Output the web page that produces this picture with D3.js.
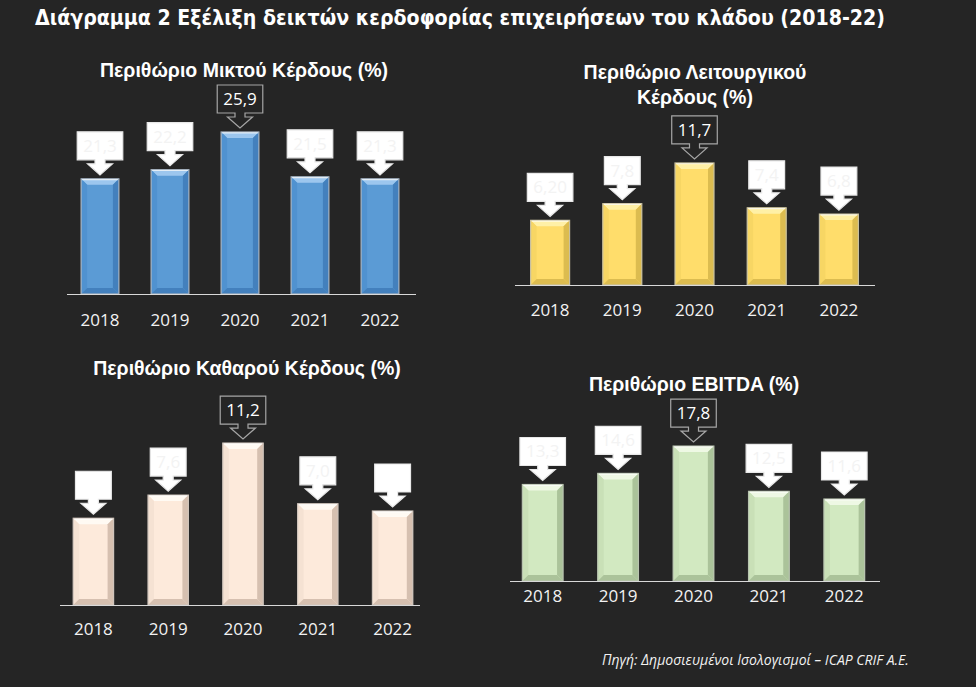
<!DOCTYPE html>
<html>
<head>
<meta charset="utf-8">
<script src="https://cdn.jsdelivr.net/npm/d3@7"></script>
<style>
  html, body { margin: 0; padding: 0; background: #252525; }
  svg { display: block; }
</style>
</head>
<body>
<svg id="chart" width="976" height="687"></svg>
<script>
// ---------------- DATA ----------------
const years = ["2018", "2019", "2020", "2021", "2022"];
const grossMargin = [21.3, 22.2, 25.9, 21.5, 21.3];
const grossLabels = ["21,3", "22,2", "25,9", "21,5", "21,3"];
const operatingMargin = [6.2, 7.8, 11.7, 7.4, 6.8];
const operatingLabels = ["6,20", "7,8", "11,7", "7,4", "6,8"];
const netMargin = [6.0, 7.6, 11.2, 7.0, 6.5];
const netLabels = ["", "7,6", "11,2", "7,0", ""];
const ebitdaMargin = [13.3, 14.6, 17.8, 12.5, 11.6];
const ebitdaLabels = ["13,3", "14,6", "17,8", "12,5", "11,6"];
const highlightYear = "2020";

const mainTitle = "Διάγραμμα 2 Εξέλιξη δεικτών κερδοφορίας επιχειρήσεων του κλάδου (2018-22)";
const sourceText = "Πηγή: Δημοσιευμένοι Ισολογισμοί – ICAP CRIF A.E.";

// ---------------- LAYOUT ----------------
const palettes = {
  blue:   { main: "#5b9bd5", top: "#9cc6ee", left: "#5092d0", right: "#4380bd", bottom: "#4380bd", stroke: "#a9b4c0" },
  yellow: { main: "#ffdd6b", top: "#fff0a6", left: "#f7d664", right: "#dcbc50", bottom: "#dcbc50", stroke: "#c8c0a0" },
  peach:  { main: "#fdeadb", top: "#fffaf3", left: "#f5e2d3", right: "#d6c0b0", bottom: "#d6c0b0", stroke: "#cfc4bb" },
  green:  { main: "#d2e9c1", top: "#eef8e4", left: "#c9e0b7", right: "#abc39a", bottom: "#abc39a", stroke: "#b9c4b0" }
};

const panels = [
  { title: ["Περιθώριο Μικτού Κέρδους (%)"], titleX: 244, titleY: 77,
    values: grossMargin, labels: grossLabels, pal: "blue",
    xRange: [65, 415], baseline: 294, domain: [10, 30], pxPerUnit: 10.19, tickY: 326, axis: [67, 416] },
  { title: ["Περιθώριο Λειτουργικού", "Κέρδους (%)"], titleX: 695, titleY: 79,
    values: operatingMargin, labels: operatingLabels, pal: "yellow",
    xRange: [514, 875], baseline: 285, domain: [0, 14], pxPerUnit: 10.43, tickY: 316, axis: [515, 875] },
  { title: ["Περιθώριο Καθαρού Κέρδους (%)"], titleX: 247, titleY: 375,
    values: netMargin, labels: netLabels, pal: "peach",
    xRange: [56, 430], baseline: 605, domain: [0, 12], pxPerUnit: 14.46, tickY: 635, axis: [60, 420] },
  { title: ["Περιθώριο EBITDA (%)"], titleX: 694, titleY: 391,
    values: ebitdaMargin, labels: ebitdaLabels, pal: "green",
    xRange: [505, 882], baseline: 581, domain: [2, 20], pxPerUnit: 8.54, tickY: 602, axis: [510, 880] }
];

const svg = d3.select("#chart");
svg.append("rect").attr("width", 976).attr("height", 687).attr("fill", "#252525");

// main title
svg.append("text")
  .attr("x", 35).attr("y", 25)
  .attr("font-family", "'Liberation Sans Narrow', 'DejaVu Sans Condensed', 'Liberation Sans', sans-serif")
  .attr("font-weight", "bold")
  .attr("font-size", 22)
  .attr("fill", "#ffffff")
  .attr("textLength", 850)
  .attr("lengthAdjust", "spacingAndGlyphs")
  .text(mainTitle);

// source
svg.append("text")
  .attr("x", 602).attr("y", 665)
  .attr("font-family", "'Open Sans', sans-serif")
  .attr("font-style", "italic")
  .attr("font-size", 14)
  .attr("fill", "#f2f2f2")
  .text(sourceText);

const fmt = v => v.toFixed(1).replace(".", ",");

panels.forEach(p => {
  const pal = palettes[p.pal];
  const g = svg.append("g");

  // title
  p.title.forEach((line, i) => {
    g.append("text")
      .attr("x", p.titleX).attr("y", p.titleY + i * 25)
      .attr("text-anchor", "middle")
      .attr("font-family", "'Liberation Sans', Arial, sans-serif")
      .attr("font-weight", "bold")
      .attr("font-size", 19.5)
      .attr("fill", "#ffffff")
      .text(line);
  });

  const x = d3.scaleBand().domain(years).range(p.xRange).paddingInner(0.46).paddingOuter(0.23);
  const topPx = p.baseline - (p.domain[1] - p.domain[0]) * p.pxPerUnit;
  const y = d3.scaleLinear().domain(p.domain).range([p.baseline, topPx]);

  const data = years.map((yr, i) => ({ year: yr, value: p.values[i], label: p.labels[i] }));
  const bw = x.bandwidth();
  const b = 6;

  // bars
  const bars = g.selectAll("g.bar").data(data).join("g").attr("class", "bar");
  bars.each(function(d) {
    const bg = d3.select(this);
    const x0 = x(d.year), x1 = x0 + bw;
    const y0 = y(d.value), y1 = y(p.domain[0]);
    bg.append("rect").attr("x", x0).attr("y", y0).attr("width", bw).attr("height", y1 - y0).attr("fill", pal.main);
    // bevel faces
    bg.append("polygon").attr("points", [[x0, y0], [x1, y0], [x1 - b, y0 + b], [x0 + b, y0 + b]].join(" ")).attr("fill", pal.top);
    bg.append("polygon").attr("points", [[x0, y0], [x0 + b, y0 + b], [x0 + b, y1 - b], [x0, y1]].join(" ")).attr("fill", pal.left);
    bg.append("polygon").attr("points", [[x1, y0], [x1, y1], [x1 - b, y1 - b], [x1 - b, y0 + b]].join(" ")).attr("fill", pal.right);
    bg.append("polygon").attr("points", [[x0, y1], [x0 + b, y1 - b], [x1 - b, y1 - b], [x1, y1]].join(" ")).attr("fill", pal.bottom);
    bg.append("rect").attr("x", x0).attr("y", y0).attr("width", bw).attr("height", y1 - y0)
      .attr("fill", "none").attr("stroke", pal.stroke).attr("stroke-width", 1.2);
    bg.append("line").attr("x1", x0 + 1).attr("x2", x1 - 1).attr("y1", y0 + 0.8).attr("y2", y0 + 0.8)
      .attr("stroke", "#ffffff").attr("stroke-opacity", 0.7).attr("stroke-width", 1.2);
  });

  // axis
  const axis = d3.axisBottom(x).tickSizeInner(0).tickSizeOuter(0).tickPadding(0);
  const ax = g.append("g").attr("transform", `translate(0,${p.baseline})`).call(axis);
  ax.select(".domain").remove();
  ax.selectAll(".tick text")
    .attr("y", p.tickY - p.baseline).attr("dy", 0)
    .attr("font-family", "'Open Sans', sans-serif")
    .attr("font-size", 17)
    .attr("fill", "#f2f2f2");
  g.append("line")
    .attr("x1", p.axis[0]).attr("x2", p.axis[1])
    .attr("y1", p.baseline + 0.5).attr("y2", p.baseline + 0.5)
    .attr("stroke", "#d9d9d9").attr("stroke-width", 1.2);

  // callouts
  const callouts = g.selectAll("g.callout").data(data).join("g").attr("class", "callout");
  callouts.each(function(d) {
    const cg = d3.select(this);
    const hi = d.year === highlightYear;
    const cx = x(d.year) + bw / 2;
    const tip = y(d.value) - 4;
    const headH = 11, shaftH = 4, boxH = 28;
    const boxBottom = tip - headH - shaftH;
    const boxTop = boxBottom - boxH;

    const txt = cg.append("text")
      .attr("x", cx).attr("y", boxTop + 20)
      .attr("text-anchor", "middle")
      .attr("font-family", "'Open Sans', sans-serif")
      .attr("font-size", 17)
      .attr("fill", hi ? "#ffffff" : "#f3f3f3")
      .text(d.label || fmt(d.value));
    const tw = txt.node().getComputedTextLength();
    if (!d.label) txt.text("");
    const bwid = tw + 12;
    const sw = 5, hw = 12.5;
    const pts = [
      [cx - bwid / 2, boxTop], [cx + bwid / 2, boxTop], [cx + bwid / 2, boxBottom],
      [cx + sw, boxBottom], [cx + sw, boxBottom + shaftH], [cx + hw, boxBottom + shaftH],
      [cx, tip], [cx - hw, boxBottom + shaftH], [cx - sw, boxBottom + shaftH],
      [cx - sw, boxBottom], [cx - bwid / 2, boxBottom]
    ];
    cg.insert("polygon", "text")
      .attr("points", pts.map(q => q.join(",")).join(" "))
      .attr("fill", hi ? "#252525" : "#ffffff")
      .attr("stroke", hi ? "#a6a6a6" : "#e8e8e8")
      .attr("stroke-width", 1.2)
      .attr("stroke-linejoin", "miter");
  });
});
</script>
</body>
</html>
